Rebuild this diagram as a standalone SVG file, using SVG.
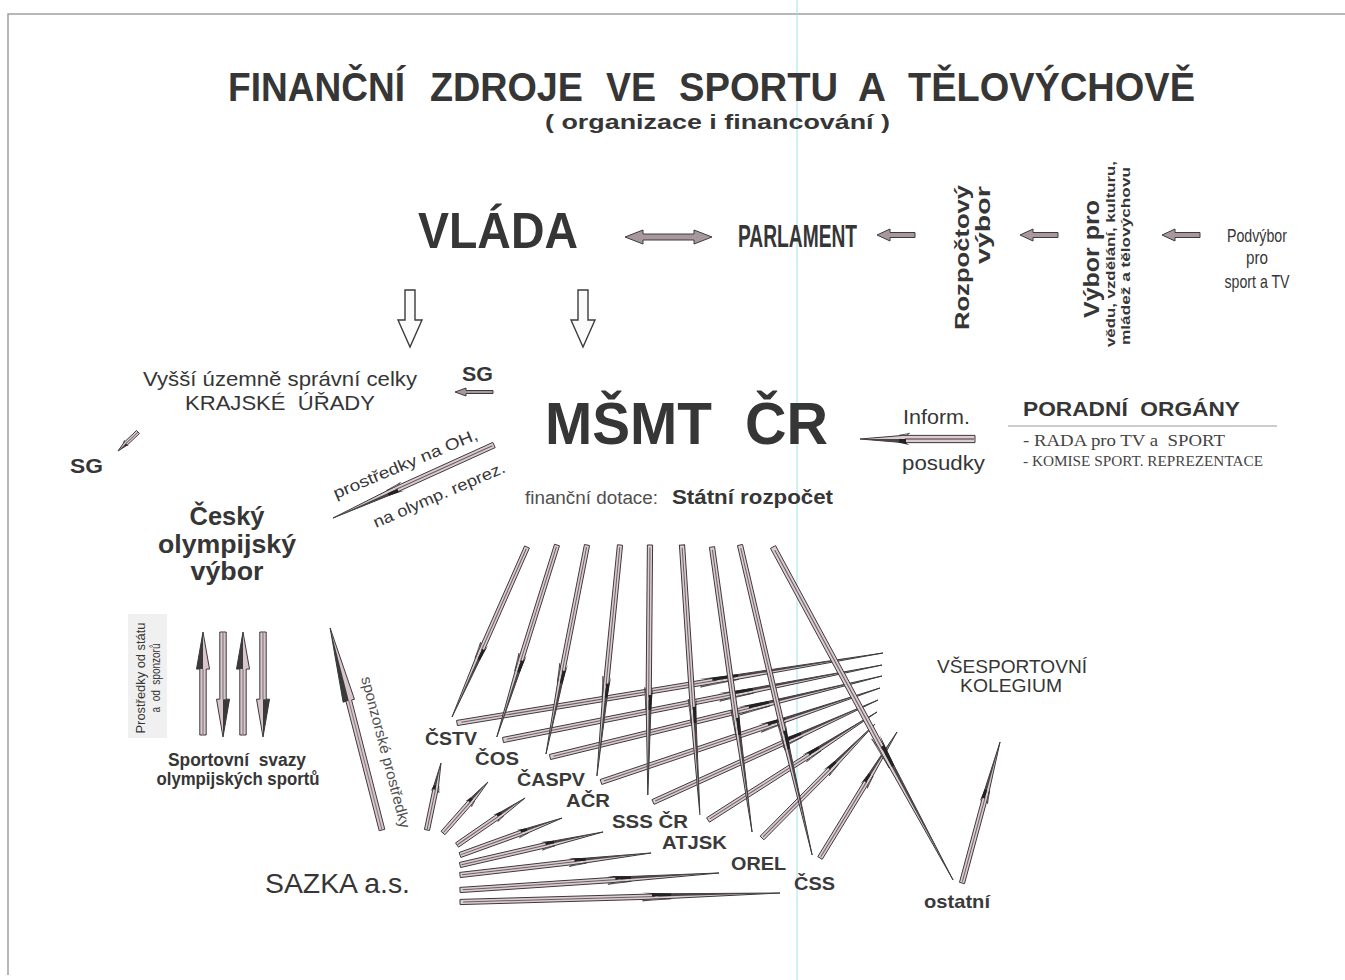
<svg xmlns="http://www.w3.org/2000/svg" width="1345" height="980" viewBox="0 0 1345 980">
<style>
text{font-family:"Liberation Sans",Arial,sans-serif;fill:#363636}
.b{font-weight:bold}
.gr{fill:#505050}
.serif{font-family:"Liberation Serif","Times New Roman",serif;fill:#444}
.blk{fill:#a8989e;stroke:#3c3c3c;stroke-width:1}
.hol{fill:#fbfbfb;stroke:#3c3c3c;stroke-width:1.4}
.org{font-weight:bold;font-size:19px;fill:#3a3a3a}
</style>
<defs>
<g id="nd">
<polygon points="0,-2.6 0.62,-2.6 1,0 0.62,2.6 0,2.6" fill="#dccbd1" stroke="#3a3a3a" stroke-width="1" vector-effect="non-scaling-stroke"/>
<polygon points="0.62,-2.6 1,0 0.62,0" fill="#4a4446"/>
<rect x="0.01" y="-0.5" width="0.6" height="1" fill="#6b5f64"/>
<polygon points="0.57,-4.2 0.66,-2.6 0.66,0 0.6,0 0.6,-2.6" fill="#222"/>
<polygon points="0.57,4 0.66,2.6 0.6,2.6" fill="#fff" stroke="#3a3a3a" stroke-width="0.8" vector-effect="non-scaling-stroke"/>
</g>
<g id="nb">
<polygon points="0,-3.2 0.64,-3.2 0.64,-6.5 1,0 0.64,6.5 0.64,3.2 0,3.2" fill="#d8c6cc" stroke="#3a3a3a" stroke-width="1" vector-effect="non-scaling-stroke"/>
<polygon points="0.64,-6.5 1,0 0.64,0" fill="#3a3a3a"/>
<rect x="0" y="-0.6" width="0.64" height="1.2" fill="#8a7b81"/>
</g>
</defs>
<rect width="1345" height="980" fill="#fff"/>
<g id="frame" fill="none">
<path d="M8,975 V14 H1345" stroke="#a0a0a0" stroke-width="1.5"/>
<line x1="797" y1="0" x2="797" y2="980" stroke="#9fe3e6" stroke-width="1"/>
</g>
<g id="title" class="b">
<text x="228" y="101" font-size="40" textLength="177" lengthAdjust="spacingAndGlyphs">FINANČNÍ</text>
<text x="430" y="101" font-size="40" textLength="153" lengthAdjust="spacingAndGlyphs">ZDROJE</text>
<text x="606" y="101" font-size="40" textLength="50" lengthAdjust="spacingAndGlyphs">VE</text>
<text x="679" y="101" font-size="40" textLength="159" lengthAdjust="spacingAndGlyphs">SPORTU</text>
<text x="858" y="101" font-size="40" textLength="28" lengthAdjust="spacingAndGlyphs">A</text>
<text x="908" y="101" font-size="40" textLength="287" lengthAdjust="spacingAndGlyphs">TĚLOVÝCHOVĚ</text>
<text x="545" y="129" font-size="20" textLength="345" lengthAdjust="spacingAndGlyphs">( organizace i financování )</text>
</g>
<g id="connectors">
<path class="blk" d="M625,237 L643,230 V234 H694 V230 L712,237 L694,244 V240 H643 V244 Z"/>
<path class="blk" d="M877,235 L890,229 V232.5 H915 V237.5 H890 V241 Z"/>
<path class="blk" d="M1020,235 L1033,229 V232.5 H1058 V237.5 H1033 V241 Z"/>
<path class="blk" d="M1162,235 L1175,229 V232.5 H1200 V237.5 H1175 V241 Z"/>
<path class="hol" d="M405,290 H415 V320 H422 L410,347 L398,320 H405 Z"/>
<path class="hol" d="M578,290 H588 V320 H595 L583,347 L571,320 H578 Z"/>
<path class="blk" d="M455,392 L466,388 V390.5 H493 V393.5 H466 V396 Z"/>
<use href="#nd" transform="translate(138 432) rotate(136.5) scale(27.6 0.8)"/>
<use href="#nd" transform="translate(975 439) rotate(180) scale(115 1.4)"/>
<use href="#nd" transform="translate(494 445) rotate(155.6) scale(176.8 1.1)"/>
<use href="#nb" transform="translate(203 735) rotate(-90) scale(103 1)"/>
<use href="#nb" transform="translate(223 632) rotate(90) scale(105 1)"/>
<use href="#nb" transform="translate(243 735) rotate(-90) scale(103 1)"/>
<use href="#nb" transform="translate(263 632) rotate(90) scale(105 1)"/>
<use href="#nb" transform="translate(382 830) rotate(-104.4) scale(208.6 0.9)"/>
<use href="#nd" transform="translate(457 723) rotate(-9.33) scale(431.7 1)"/>
<use href="#nd" transform="translate(503 740) rotate(-11.19) scale(386.3 1)"/>
<use href="#nd" transform="translate(550 757) rotate(-13.71) scale(341.7 1)"/>
<use href="#nd" transform="translate(601 782) rotate(-18.62) scale(294.4 1)"/>
<use href="#nd" transform="translate(653 802) rotate(-24.39) scale(247 1)"/>
<use href="#nd" transform="translate(708 820) rotate(-32.58) scale(200.6 1)"/>
<use href="#nd" transform="translate(762 838) rotate(-45.25) scale(160.5 1)"/>
<use href="#nd" transform="translate(820 858) rotate(-58.57) scale(147.7 1)"/>
<use href="#nd" transform="translate(962 883) rotate(-74.9) scale(146 1)"/>
<use href="#nd" transform="translate(427 830) rotate(-78.2) scale(68.4 1)"/>
<use href="#nd" transform="translate(443 833) rotate(-48.6) scale(68 1)"/>
<use href="#nd" transform="translate(457 845) rotate(-34.6) scale(82.7 1)"/>
<use href="#nd" transform="translate(460 855) rotate(-19.9) scale(108.5 1)"/>
<use href="#nd" transform="translate(460 865) rotate(-13) scale(146.8 1)"/>
<use href="#nd" transform="translate(460 875) rotate(-6.57) scale(192.3 1)"/>
<use href="#nd" transform="translate(460 890) rotate(-3.76) scale(259.6 1)"/>
<use href="#nd" transform="translate(460 902) rotate(-1.61) scale(320.1 1)"/>
<use href="#nd" transform="translate(527 547) rotate(113.8) scale(185.8 1)"/>
<use href="#nd" transform="translate(557 545) rotate(107.4) scale(201.2 1)"/>
<use href="#nd" transform="translate(587 545) rotate(101.1) scale(213 1)"/>
<use href="#nd" transform="translate(620 545) rotate(95.7) scale(232.1 1)"/>
<use href="#nd" transform="translate(650 545) rotate(90.5) scale(250 1)"/>
<use href="#nd" transform="translate(682 545) rotate(86.2) scale(270.6 1)"/>
<use href="#nd" transform="translate(712 547) rotate(82) scale(287.8 1)"/>
<use href="#nd" transform="translate(740 545) rotate(76.9) scale(318.3 1)"/>
<use href="#nd" transform="translate(773 547) rotate(61.6) scale(378.5 1.1)"/>
</g>
<g id="vlada"><text x="418" y="248" font-size="50" class="b" textLength="160" lengthAdjust="spacingAndGlyphs">VLÁDA</text></g>
<g id="parlament"><text x="738" y="247" font-size="31" class="b" textLength="119" lengthAdjust="spacingAndGlyphs">PARLAMENT</text></g>
<g id="rozpoctovy-vybor" class="b">
<text transform="translate(969 330) rotate(-90)" font-size="20" textLength="145" lengthAdjust="spacingAndGlyphs">Rozpočtový</text>
<text transform="translate(990 186) rotate(-90)" font-size="20" text-anchor="end" textLength="78" lengthAdjust="spacingAndGlyphs">výbor</text>
</g>
<g id="vybor-pro" class="b">
<text transform="translate(1099 259) rotate(-90)" font-size="22" text-anchor="middle" textLength="118" lengthAdjust="spacingAndGlyphs">Výbor pro</text>
<text transform="translate(1115 254) rotate(-90)" font-size="13" text-anchor="middle" textLength="186" lengthAdjust="spacingAndGlyphs">vědu, vzdělání, kulturu,</text>
<text transform="translate(1130 256) rotate(-90)" font-size="13" text-anchor="middle" textLength="178" lengthAdjust="spacingAndGlyphs">mládež a tělovýchovu</text>
</g>
<g id="podvybor" class="gr" font-size="19" text-anchor="middle">
<text x="1257" y="242" textLength="60" lengthAdjust="spacingAndGlyphs">Podvýbor</text>
<text x="1257" y="264" textLength="22" lengthAdjust="spacingAndGlyphs">pro</text>
<text x="1257" y="288" textLength="65" lengthAdjust="spacingAndGlyphs">sport a TV</text>
</g>
<g id="krajske-urady" font-size="21" class="gr">
<text x="143" y="386" textLength="274" lengthAdjust="spacingAndGlyphs">Vyšší územně správní celky</text>
<text x="185" y="410" textLength="190" lengthAdjust="spacingAndGlyphs" style="white-space:pre">KRAJSKÉ  ÚŘADY</text>
</g>
<g id="sg1"><text x="462" y="381" font-size="20" class="b" textLength="31" lengthAdjust="spacingAndGlyphs">SG</text></g>
<g id="sg2"><text x="70" y="473" font-size="20" class="b" textLength="33" lengthAdjust="spacingAndGlyphs">SG</text></g>
<g id="msmt" class="b" font-size="60">
<text x="545" y="444" textLength="167" lengthAdjust="spacingAndGlyphs">MŠMT</text>
<text x="745" y="444" textLength="83" lengthAdjust="spacingAndGlyphs">ČR</text>
</g>
<g id="inform" font-size="20">
<text x="903" y="424" textLength="67" lengthAdjust="spacingAndGlyphs">Inform.</text>
<text x="902" y="470" textLength="83" lengthAdjust="spacingAndGlyphs">posudky</text>
</g>
<g id="poradni-organy">
<text x="1023" y="416" font-size="21" class="b" fill="#3a3a3a" textLength="217" lengthAdjust="spacingAndGlyphs" style="white-space:pre">PORADNÍ  ORGÁNY</text>
<line x1="1008" y1="426" x2="1277" y2="426" stroke="#9a9a9a" stroke-width="1"/>
<text x="1023" y="446" font-size="17" class="serif" textLength="202" lengthAdjust="spacingAndGlyphs" style="white-space:pre">- RADA pro TV a  SPORT</text>
<text x="1023" y="466" font-size="14" class="serif" textLength="240" lengthAdjust="spacingAndGlyphs">- KOMISE SPORT. REPREZENTACE</text>
</g>
<g id="dotace">
<text x="525" y="504" font-size="18" class="gr" textLength="133" lengthAdjust="spacingAndGlyphs">finanční dotace:</text>
<text x="672" y="504" font-size="20" class="b" textLength="161" lengthAdjust="spacingAndGlyphs">Státní rozpočet</text>
</g>
<g id="oh-label" font-size="16" class="gr">
<text transform="translate(336 499) rotate(-22.8)" textLength="155" lengthAdjust="spacingAndGlyphs">prostředky na OH,</text>
<text transform="translate(376 528) rotate(-23.3)" textLength="142" lengthAdjust="spacingAndGlyphs">na olymp. reprez.</text>
</g>
<g id="cov" class="b" font-size="26" text-anchor="middle" fill="#3a3a3a">
<text x="227" y="525" textLength="75" lengthAdjust="spacingAndGlyphs">Český</text>
<text x="227" y="553" textLength="138" lengthAdjust="spacingAndGlyphs">olympijský</text>
<text x="227" y="580" textLength="73" lengthAdjust="spacingAndGlyphs">výbor</text>
</g>
<g id="prostredky">
<rect x="128" y="614" width="39" height="124" fill="#f0f0f0"/>
<text transform="translate(145 678) rotate(-90)" font-size="12" fill="#666" text-anchor="middle" textLength="111" lengthAdjust="spacingAndGlyphs">Prostředky od státu</text>
<text transform="translate(160 678) rotate(-90)" font-size="12" fill="#666" text-anchor="middle" textLength="69" lengthAdjust="spacingAndGlyphs" style="white-space:pre">a  od  sponzorů</text>
</g>
<g id="svazy" class="b" font-size="18" text-anchor="middle" fill="#3a3a3a">
<text x="237" y="766" textLength="138" lengthAdjust="spacingAndGlyphs" style="white-space:pre">Sportovní  svazy</text>
<text x="238" y="785" textLength="163" lengthAdjust="spacingAndGlyphs">olympijských sportů</text>
</g>
<g id="sponzor-label"><text transform="translate(361 678) rotate(75.3)" font-size="15" class="gr" textLength="156" lengthAdjust="spacingAndGlyphs">sponzorské prostředky</text></g>
<g id="sazka"><text x="265" y="893" font-size="28" fill="#3a3a3a" textLength="145" lengthAdjust="spacingAndGlyphs">SAZKA a.s.</text></g>
<g id="kolegium" font-size="18" text-anchor="middle" fill="#3a3a3a">
<text x="1012" y="673" textLength="150" lengthAdjust="spacingAndGlyphs">VŠESPORTOVNÍ</text>
<text x="1011" y="692" textLength="102" lengthAdjust="spacingAndGlyphs">KOLEGIUM</text>
</g>
<g id="cstv"><text class="org" x="425" y="745" textLength="52" lengthAdjust="spacingAndGlyphs">ČSTV</text></g>
<g id="cos"><text class="org" x="475" y="765" textLength="44" lengthAdjust="spacingAndGlyphs">ČOS</text></g>
<g id="caspv"><text class="org" x="517" y="786" textLength="68" lengthAdjust="spacingAndGlyphs">ČASPV</text></g>
<g id="acr"><text class="org" x="566" y="807" textLength="44" lengthAdjust="spacingAndGlyphs">AČR</text></g>
<g id="sss-cr"><text class="org" x="612" y="828" textLength="76" lengthAdjust="spacingAndGlyphs">SSS ČR</text></g>
<g id="atjsk"><text class="org" x="662" y="849" textLength="65" lengthAdjust="spacingAndGlyphs">ATJSK</text></g>
<g id="orel"><text class="org" x="731" y="870" textLength="55" lengthAdjust="spacingAndGlyphs">OREL</text></g>
<g id="css"><text class="org" x="794" y="890" textLength="41" lengthAdjust="spacingAndGlyphs">ČSS</text></g>
<g id="ostatni"><text class="org" x="924" y="908" font-size="18" textLength="66" lengthAdjust="spacingAndGlyphs">ostatní</text></g>
</svg>
